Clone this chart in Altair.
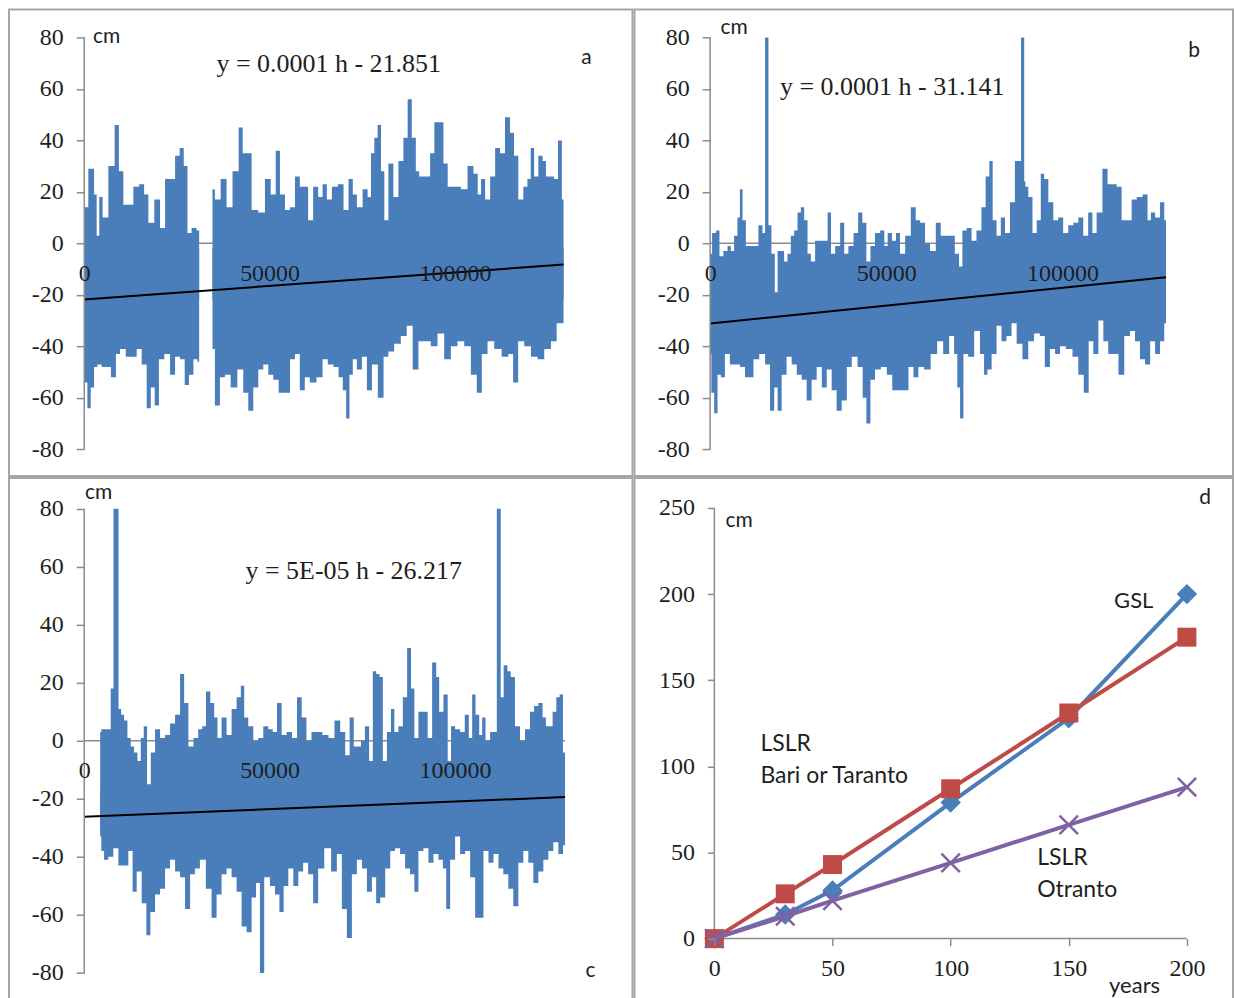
import altair as alt
import pandas as pd

SERIF = "Liberation Serif"
SANS = "Lato"
BLUE = "#4a7ebb"
RED = "#be4b48"
PURPLE = "#7f62a1"
AXISGRAY = "#8c8c8c"
FRAME = "#a6a6a6"
TEXT = "#1e1e1e"

# ---------------- data (hours in thousands, cm) ----------------
HOUR_TICKS = [0, 50000, 100000]
CM_TICKS = [-80, -60, -40, -20, 0, 20, 40, 60, 80]

# panel a : upper / lower envelope of hourly sea level, two segments (data gap)
A_UPPER = [
    [(0.0, 14), (2.2, 29), (3.1, 19), (3.6, 3), (4.5, 18), (5.4, 10), (7.6, 30), (8.8, 46), (9.9, 28),
     (11.2, 15), (12.6, 15), (13.9, 22), (15.7, 23), (16.6, 19), (18.0, 8), (19.8, 17), (21.1, 6),
     (22.5, 25), (23.8, 25), (25.2, 34), (26.3, 37), (27.4, 30), (28.3, 4), (29.6, 6), (31.0, 5)],
    [(34.6, 21), (35.9, 17), (37.7, 25), (39.1, 14), (40.9, 28), (42.4, 45), (43.1, 35), (44.5, 35),
     (45.8, 13), (48.1, 12), (49.4, 25), (51.2, 19), (52.1, 36), (53.5, 19), (54.8, 13), (56.2, 14),
     (57.5, 26), (58.8, 22), (59.7, 22), (61.1, 9), (62.4, 22), (63.8, 18), (64.8, 23), (66.1, 17),
     (67.5, 22), (69.3, 23), (70.6, 13), (72.0, 25), (72.9, 19), (74.2, 14), (76.0, 21), (76.9, 18),
     (77.8, 35), (78.7, 41), (79.6, 46), (80.5, 28), (81.4, 9), (82.7, 31), (84.1, 18), (85.4, 32),
     (86.8, 41), (87.7, 56), (89.0, 41), (89.9, 28), (90.8, 26), (92.6, 26), (94.0, 35), (94.9, 47),
     (96.2, 47), (97.6, 31), (98.5, 22), (99.4, 22), (100.7, 22), (102.5, 21), (104.3, 30), (105.7, 27),
     (106.6, 19), (107.5, 25), (108.8, 17), (110.2, 26), (111.5, 37), (112.8, 35), (114.2, 49),
     (115.5, 43), (116.4, 34), (117.8, 17), (119.1, 22), (120.0, 25), (120.9, 37), (121.8, 26),
     (123.2, 34), (124.1, 32), (125.0, 26), (126.3, 26), (127.2, 25), (128.4, 40), (129.3, 17)],
]
A_LOWER = [
    [(0.0, -27), (0.4, -54), (1.3, -64), (2.2, -56), (3.1, -48), (4.0, -47), (5.4, -48), (6.3, -48),
     (8.1, -52), (9.0, -43), (10.3, -41), (12.1, -44), (13.5, -44), (14.8, -41), (16.2, -47), (17.5, -64),
     (18.4, -56), (19.6, -63), (20.7, -45), (22.5, -43), (23.8, -51), (25.2, -44), (26.5, -45),
     (27.7, -55), (28.8, -51), (30.1, -45), (31.0, -46)],
    [(34.6, -41), (35.9, -63), (37.3, -52), (38.6, -51), (40.4, -56), (42.2, -49), (43.6, -58),
     (44.9, -65), (46.3, -56), (47.6, -49), (49.0, -47), (50.3, -51), (51.7, -53), (53.2, -58),
     (54.8, -58), (56.2, -45), (57.5, -43), (58.8, -57), (60.2, -52), (61.5, -54), (63.8, -52),
     (64.8, -45), (66.6, -47), (67.9, -48), (69.3, -52), (70.2, -57), (71.1, -68), (72.0, -51),
     (72.9, -45), (74.2, -49), (75.6, -44), (76.9, -57), (78.3, -47), (80.1, -60), (81.4, -44),
     (82.7, -42), (84.5, -39), (86.3, -36), (87.7, -32), (89.5, -49), (90.8, -38), (92.6, -38),
     (94.4, -40), (96.2, -35), (98.0, -45), (99.8, -40), (101.6, -38), (103.4, -40), (105.2, -51),
     (106.6, -58), (107.9, -43), (109.7, -38), (111.5, -41), (113.7, -44), (115.1, -43), (116.3, -54),
     (117.8, -38), (119.6, -40), (121.4, -44), (123.2, -45), (125.0, -41), (126.8, -38), (128.1, -31),
     (129.3, -31)],
]
A_TREND = [(0.0, -21.8), (129.3, -8.2)]

# panel b
B_UPPER = [[
    (0.0, -4), (1.1, 4), (2.3, 5), (3.0, -5), (4.5, -3), (5.4, -1), (6.3, -3), (7.3, 3), (8.2, 10),
    (8.7, 21), (9.7, 9), (10.6, -1), (11.6, -1), (13.0, -1), (14.4, 7), (15.3, 4), (15.9, 80), (16.3, 80),
    (16.8, 7), (18.0, -4), (18.7, -19), (19.6, -3), (20.5, -3), (21.5, -7), (22.4, -4), (23.4, 3),
    (24.3, 5), (25.3, 12), (26.2, 14), (27.2, 9), (28.1, -4), (29.1, -7), (30.5, 1), (31.6, 1), (32.9, 1),
    (33.8, 12), (34.8, -4), (36.2, -1), (37.6, 8), (38.5, -4), (40.0, -1), (41.4, 4), (42.6, 12),
    (43.8, 8), (44.9, -7), (46.1, -1), (47.5, 4), (49.0, 5), (49.9, -1), (50.9, 4), (52.3, 1), (53.2, 4),
    (54.6, -4), (56.1, 3), (57.8, 14), (58.9, 9), (60.3, 8), (61.7, 0), (63.1, -3), (65.0, 8), (65.9, 3),
    (67.3, 3), (68.7, 3), (70.2, -4), (71.1, -9), (72.1, 5), (73.5, 6), (74.9, 1), (76.3, 5), (77.7, 14),
    (78.7, 26), (79.8, 32), (80.6, 9), (82.0, 3), (83.0, 10), (84.4, 4), (85.8, 16), (87.2, 32),
    (88.0, 32), (88.5, 80), (88.9, 80), (89.4, 24), (89.6, 22), (91.0, 18), (92.0, 4), (93.4, 9),
    (94.3, 27), (95.3, 25), (96.7, 16), (98.1, 9), (99.5, 10), (100.9, 4), (102.4, 7), (103.8, 8),
    (105.2, 10), (106.6, 3), (108.0, 12), (109.0, 4), (110.4, 12), (112.3, 29), (113.3, 23), (114.7, 23),
    (116.1, 22), (117.5, 9), (118.9, 9), (120.4, 17), (121.8, 18), (123.7, 19), (124.6, 9), (125.6, 12),
    (127.0, 10), (128.4, 16), (129.4, 9)]]
B_LOWER = [[
    (0.0, -43), (0.7, -58), (1.6, -66), (2.6, -51), (3.5, -52), (4.9, -43), (6.3, -47), (7.8, -47),
    (9.2, -48), (10.6, -52), (11.6, -52), (13.0, -45), (14.9, -43), (16.3, -47), (17.7, -65), (18.7, -56),
    (19.6, -65), (21.0, -51), (22.4, -44), (23.9, -47), (25.3, -51), (26.7, -53), (28.1, -61), (29.5, -53),
    (31.0, -48), (32.4, -56), (33.8, -49), (35.2, -57), (36.6, -65), (38.1, -61), (39.5, -48), (40.9, -44),
    (42.8, -48), (43.8, -60), (44.9, -70), (46.1, -53), (47.5, -49), (49.4, -48), (50.9, -51), (52.5, -57),
    (54.2, -57), (55.6, -57), (57.0, -48), (58.4, -52), (59.8, -48), (61.7, -49), (63.5, -43), (65.4, -38),
    (66.9, -43), (68.8, -36), (69.7, -43), (70.6, -56), (71.3, -68), (72.5, -43), (74.0, -44), (75.9, -34),
    (77.3, -43), (78.2, -51), (79.2, -49), (80.6, -43), (82.0, -32), (83.4, -38), (84.8, -36), (86.3, -31),
    (87.7, -39), (89.6, -45), (91.0, -38), (92.9, -35), (94.3, -36), (95.7, -48), (97.2, -41), (98.6, -43),
    (100.0, -40), (101.9, -41), (103.8, -44), (105.2, -51), (106.9, -58), (108.0, -38), (109.5, -43),
    (110.9, -30), (112.3, -38), (113.7, -43), (115.2, -43), (116.6, -51), (118.5, -36), (119.9, -34),
    (121.3, -38), (122.7, -45), (124.2, -47), (125.6, -38), (127.0, -43), (128.4, -38), (129.4, -31)]]
B_TREND = [(0.0, -31.1), (129.4, -13.2)]

# panel c
C_UPPER = [[
    (4.3, 3), (4.9, 4), (5.8, 4), (6.7, 4), (7.6, 18), (8.2, 80), (8.9, 80), (9.6, 11), (10.3, 9),
    (11.2, 7), (12.1, 1), (13.0, -2), (13.9, -4), (14.8, -7), (15.7, 1), (16.4, 5), (17.5, -15), (18.4, -4),
    (19.8, 4), (21.1, 1), (22.5, 2), (23.8, 6), (25.2, 9), (26.5, 23), (27.4, 13), (28.8, -2), (30.1, 1),
    (31.4, 4), (32.3, 5), (33.4, 17), (34.6, 13), (35.5, 8), (36.4, 1), (37.7, 8), (39.1, 2), (40.4, 11),
    (41.8, 15), (42.7, 19), (43.6, 8), (44.9, 5), (46.3, 0), (47.6, 1), (49.0, 5), (50.3, 4), (51.4, 3),
    (52.6, 13), (53.9, 2), (55.3, 3), (56.8, 1), (58.0, 15), (59.3, 8), (60.6, 0), (62.0, 3), (63.3, 3),
    (65.2, 2), (66.6, 1), (68.4, 7), (69.7, 3), (71.1, -5), (72.1, 8), (73.3, -2), (74.2, -2), (75.1, 0),
    (76.3, 5), (77.4, -7), (78.3, 24), (79.2, 23), (80.1, 22), (81.0, -7), (82.3, 3), (83.2, 11),
    (84.1, 3), (85.4, 5), (86.5, 15), (87.7, 32), (88.6, 18), (89.5, 1), (90.8, 10), (92.2, 10), (93.1, 1),
    (94.6, 27), (95.3, 22), (96.2, 10), (97.6, 16), (98.5, -7), (99.4, 5), (100.7, 4), (102.1, 3),
    (103.2, 9), (104.3, 1), (105.0, 16), (106.1, 9), (107.0, 2), (107.7, 8), (108.8, 0), (110.2, 3),
    (111.0, 3), (111.6, 80), (112.1, 80), (112.6, 15), (113.7, 26), (114.6, 24), (115.5, 22), (116.9, 5),
    (118.2, 0), (119.6, 4), (120.9, 10), (121.8, 12), (123.2, 13), (124.1, 8), (125.0, 5), (125.9, 5),
    (126.8, 10), (127.9, 15), (128.6, 16), (129.7, -4)]]
C_LOWER = [[
    (4.3, -33), (4.9, -38), (5.8, -41), (7.2, -40), (8.5, -37), (9.9, -43), (11.2, -43), (12.6, -38),
    (13.5, -52), (14.8, -45), (16.2, -56), (17.3, -67), (18.4, -59), (19.8, -53), (21.1, -51), (22.5, -44),
    (23.8, -41), (25.2, -45), (26.5, -47), (27.9, -58), (29.2, -46), (30.5, -44), (31.9, -41), (33.7, -51),
    (35.0, -61), (36.4, -53), (37.7, -46), (39.1, -44), (40.4, -47), (41.8, -52), (43.1, -64), (44.5, -66),
    (45.8, -54), (46.9, -49), (47.9, -80), (48.3, -80), (48.8, -47), (49.4, -47), (50.8, -50), (52.1, -53),
    (53.2, -59), (54.4, -50), (55.7, -44), (57.1, -50), (58.4, -45), (59.7, -42), (61.1, -46), (62.4, -56),
    (63.8, -44), (65.7, -37), (67.5, -45), (68.8, -39), (70.2, -58), (71.5, -68), (72.9, -46), (74.2, -41),
    (75.6, -44), (76.9, -52), (78.3, -47), (79.2, -56), (80.5, -54), (81.9, -44), (83.2, -38), (84.5, -37),
    (85.9, -39), (87.2, -44), (88.6, -46), (89.5, -52), (90.8, -38), (92.2, -37), (93.5, -42), (94.9, -39),
    (96.2, -41), (97.3, -44), (98.0, -58), (99.4, -41), (100.7, -33), (102.1, -39), (103.4, -38),
    (104.8, -47), (106.1, -61), (107.0, -61), (108.4, -38), (109.7, -42), (111.1, -39), (112.4, -44),
    (113.7, -46), (115.1, -51), (116.4, -57), (117.8, -42), (119.1, -38), (120.5, -42), (121.8, -49),
    (123.2, -45), (124.5, -41), (125.9, -38), (127.2, -35), (128.6, -39), (129.7, -36)]]
C_TREND = [(0.0, -26.2), (129.7, -19.4)]

# panel d : projected sea level rise (cm) vs years
YEARS = [0, 30, 50, 100, 150, 200]
GSL = [0, 14, 28, 79, 128, 200]
LSLR_BARI = [0, 26, 43, 87, 131, 175]
LSLR_OTRANTO = [0, 13, 22, 44, 66, 88]
YEAR_TICKS = [0, 50, 100, 150, 200]
D_CM_TICKS = [0, 50, 100, 150, 200, 250]


# ---------------- helpers ----------------
def seg_frame(segs):
    rows = []
    for i, seg in enumerate(segs):
        for k, v in seg:
            rows.append({"h": k * 1000, "v": v, "seg": i})
    return pd.DataFrame(rows)


def label(text, x, y, font, size, align="left"):
    return alt.Chart(pd.DataFrame({"t": [text]})).mark_text(
        font=font, fontSize=size, align=align, baseline="middle", color=TEXT
    ).encode(x=alt.value(x), y=alt.value(y), text="t:N")


def axis_common():
    return dict(domain=False, grid=False, labelFlush=False, labelOverlap=False, title=None,
                labelColor=TEXT, labelFont=SERIF, labelFontSize=24, zindex=1,
                tickColor=AXISGRAY, tickWidth=1.5)


def dense_panel(w, h, xdom, ydom, upper, lower, trend, y2u, y2l, texts):
    xs = alt.Scale(domain=xdom, nice=False, zero=False)
    ys = alt.Scale(domain=ydom, nice=False, zero=False)
    x0 = w * (0 - xdom[0]) / (xdom[1] - xdom[0])
    y0 = h * ydom[1] / (ydom[1] - ydom[0])
    xaxis = alt.Axis(values=HOUR_TICKS, format="d", orient="bottom", offset=-(h - y0), ticks=False,
                     labelPadding=30, labelBaseline="middle", **axis_common())
    yaxis = alt.Axis(values=CM_TICKS, format="d", orient="left", offset=-x0, ticks=True, tickSize=8,
                     labelPadding=13, labelExpr="replace(datum.label, '\u2212', '-')", **axis_common())

    def X(f):
        return alt.X(f, scale=xs, axis=xaxis)

    def Y(f):
        return alt.Y(f, scale=ys, axis=yaxis)

    end_h = max(k for seg in upper for k, _ in seg) * 1000
    zero = alt.Chart(pd.DataFrame({"h": [0], "h2": [end_h], "v": [0]})).mark_rule(
        color=AXISGRAY, strokeWidth=1.5).encode(x=X("h:Q"), x2="h2:Q", y=Y("v:Q"))
    up = alt.Chart(seg_frame(upper)).mark_area(interpolate="step", color=BLUE, opacity=1).encode(
        x=X("h:Q"), y=Y("v:Q"), y2=alt.Y2Datum(y2u), detail="seg:N")
    low = alt.Chart(seg_frame(lower)).mark_area(interpolate="step", color=BLUE, opacity=1).encode(
        x=X("h:Q"), y=Y("v:Q"), y2=alt.Y2Datum(y2l), detail="seg:N")
    tr = alt.Chart(pd.DataFrame({"h": [p[0] * 1000 for p in trend], "v": [p[1] for p in trend]})).mark_line(
        color="black", strokeWidth=2).encode(x=X("h:Q"), y=Y("v:Q"))
    yline = alt.Chart(pd.DataFrame({"h": [0], "lo": [CM_TICKS[0]], "hi": [CM_TICKS[-1]]})).mark_rule(
        color=AXISGRAY, strokeWidth=1.5).encode(x=X("h:Q"), y=Y("lo:Q"), y2="hi:Q")
    return alt.layer(zero, up, low, tr, yline, *texts).properties(width=w, height=h)


# ---------------- panels ----------------
pa = dense_panel(
    624, 467, [-20300, 147900], [-90.36, 90.87], A_UPPER, A_LOWER, A_TREND, -22, -2,
    [label("cm", 84, 28, SANS, 21), label("y = 0.0001 h - 21.851", 320, 55, SERIF, 26, "center"),
     label("a", 578, 49, SANS, 21, "center")])

pb = dense_panel(
    599, 467, [-21470, 148410], [-90.36, 90.87], B_UPPER, B_LOWER, B_TREND, -28, -21,
    [label("cm", 86, 19, SANS, 21), label("y = 0.0001 h - 31.141", 258, 78, SERIF, 26, "center"),
     label("b", 560, 42, SANS, 21, "center")])

pc = dense_panel(
    624, 522, [-20300, 147900], [-89.19, 90.57], C_UPPER, C_LOWER, C_TREND, -31, -17,
    [label("cm", 76, 15, SANS, 21), label("y = 5E-05 h - 26.217", 345, 93, SERIF, 26, "center"),
     label("c", 582, 493, SANS, 21, "center")])

# panel d
DW, DH = 599, 522
dxdom, dydom = [-33.8, 219.5], [-35.4, 267.4]
dxs = alt.Scale(domain=dxdom, nice=False, zero=False)
dys = alt.Scale(domain=dydom, nice=False, zero=False)
dx0 = DW * (0 - dxdom[0]) / (dxdom[1] - dxdom[0])
dy0 = DH * dydom[1] / (dydom[1] - dydom[0])
dxaxis = alt.Axis(values=YEAR_TICKS, format="d", orient="bottom", offset=-(DH - dy0), ticks=True,
                  tickSize=7, labelPadding=23, labelBaseline="middle", **axis_common())
dyaxis = alt.Axis(values=D_CM_TICKS, format="d", orient="left", offset=-dx0, ticks=True, tickSize=7,
                  labelPadding=13, **axis_common())


def DX(f):
    return alt.X(f, scale=dxs, axis=dxaxis)


def DY(f):
    return alt.Y(f, scale=dys, axis=dyaxis)


ddf = pd.DataFrame({"year": YEARS, "gsl": GSL, "bari": LSLR_BARI, "otranto": LSLR_OTRANTO})

d_xline = alt.Chart(pd.DataFrame({"a": [YEAR_TICKS[0]], "b": [YEAR_TICKS[-1]], "v": [0]})).mark_rule(
    color=AXISGRAY, strokeWidth=1.5).encode(x=DX("a:Q"), x2="b:Q", y=DY("v:Q"))
d_yline = alt.Chart(pd.DataFrame({"a": [0], "lo": [D_CM_TICKS[0]], "hi": [D_CM_TICKS[-1]]})).mark_rule(
    color=AXISGRAY, strokeWidth=1.5).encode(x=DX("a:Q"), y=DY("lo:Q"), y2="hi:Q")


def series(col, color, shape, size, filled=True):
    base = alt.Chart(ddf).encode(x=DX("year:Q"), y=DY(f"{col}:Q"))
    line = base.mark_line(color=color, strokeWidth=4)
    if filled:
        pts = base.mark_point(shape=shape, size=size, filled=True, color=color, opacity=1)
    else:
        pts = base.mark_point(shape=shape, size=size, filled=False, color=color, strokeWidth=2.5, opacity=1)
    return [line, pts]


XSHAPE = "M-1,-1L1,1M-1,1L1,-1"
pd_layers = [d_xline, d_yline]
pd_layers += series("gsl", BLUE, "diamond", 420)
pd_layers += series("bari", RED, "square", 360)
pd_layers += series("otranto", PURPLE, XSHAPE, 340, filled=False)
pd_layers += [
    label("cm", 91, 43, SANS, 21), label("d", 571, 20, SANS, 21, "center"),
    label("GSL", 480, 123, SANS, 22),
    label("LSLR", 126, 266, SANS, 23), label("Bari or Taranto", 126, 298, SANS, 23),
    label("LSLR", 403, 380, SANS, 23), label("Otranto", 403, 412, SANS, 23),
    label("years", 475, 508, SANS, 22),
]
pdd = alt.layer(*pd_layers).properties(width=DW, height=DH)

chart = alt.vconcat(
    alt.hconcat(pa, pb, spacing=0),
    alt.hconcat(pc, pdd, spacing=0),
    spacing=0,
).properties(
    padding={"left": 8, "top": 8, "right": 0, "bottom": 0},
    background="white",
).configure_view(stroke=FRAME, strokeWidth=2).configure_concat(spacing=0)

chart.save("out.html", embed_options={"renderer": "svg", "actions": False})
